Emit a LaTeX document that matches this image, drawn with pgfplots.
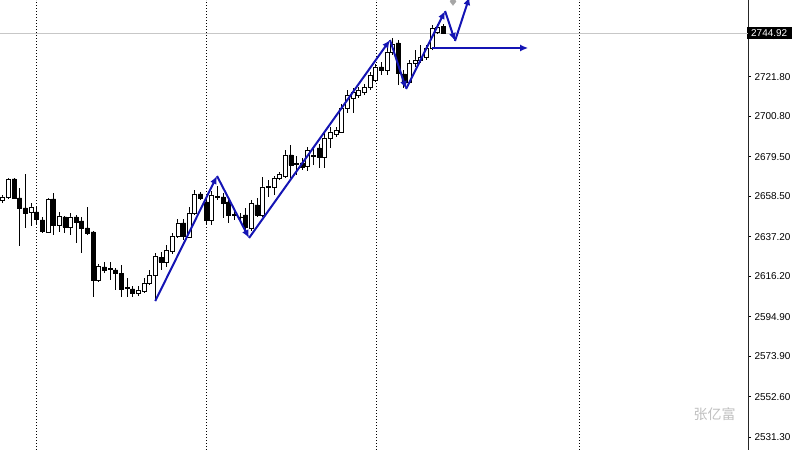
\documentclass[border=0pt]{standalone}
\usepackage{fontspec}
\setmainfont{Liberation Sans}
\newfontfamily\cjk{Noto Sans CJK SC}
\usepackage{pgfplots}
\usepackage{pgfplotstable}
\pgfplotsset{compat=1.18}
\usetikzlibrary{arrows.meta}
\definecolor{zig}{RGB}{20,20,180}

\pgfplotstableread{
i o h l c
0 2656.61 2659.25 2655.02 2658.20
1 2658.20 2668.24 2657.14 2667.71
2 2667.71 2668.24 2657.14 2657.67
3 2657.67 2662.95 2632.29 2652.38
4 2652.38 2670.36 2641.81 2649.74
5 2650.27 2655.02 2642.86 2652.91
6 2650.27 2652.91 2643.39 2646.56
7 2646.04 2647.62 2639.16 2640.22
8 2639.69 2657.67 2639.16 2657.14
9 2657.14 2660.31 2638.11 2643.39
10 2643.39 2650.27 2639.69 2648.15
11 2647.62 2648.15 2639.16 2642.34
12 2642.34 2649.74 2638.11 2647.62
13 2647.62 2648.68 2633.88 2644.98
14 2645.51 2647.62 2628.59 2641.81
15 2641.81 2652.91 2638.11 2639.16
16 2639.69 2640.22 2605.33 2614.31
17 2614.31 2622.77 2613.26 2621.72
18 2621.19 2623.83 2618.01 2619.60
19 2620.13 2623.83 2614.31 2620.40
20 2619.60 2620.66 2609.03 2618.01
21 2618.01 2622.24 2605.33 2609.56
22 2610.08 2615.37 2605.33 2610.30
23 2609.56 2611.14 2605.33 2607.44
24 2607.44 2611.14 2605.85 2609.03
25 2608.50 2615.37 2607.44 2612.73
26 2612.73 2619.60 2611.67 2616.96
27 2616.96 2628.59 2603.74 2627.00
28 2626.47 2629.12 2619.60 2623.83
29 2623.83 2632.82 2621.19 2630.17
30 2629.65 2639.16 2628.06 2637.58
31 2637.58 2646.56 2636.52 2644.45
32 2644.45 2646.56 2635.46 2637.58
33 2637.05 2652.91 2636.52 2649.74
34 2649.74 2661.90 2648.68 2659.78
35 2659.78 2660.84 2656.61 2657.67
36 2655.55 2658.20 2643.39 2646.04
37 2646.04 2661.37 2643.39 2659.25
38 2658.20 2664.01 2656.61 2658.72
39 2658.20 2660.31 2647.09 2655.02
40 2655.55 2657.67 2644.45 2648.68
41 2648.68 2652.38 2646.04 2648.90
42 2647.62 2649.74 2644.98 2647.40
43 2648.68 2652.38 2639.16 2642.34
44 2641.81 2656.61 2640.22 2655.02
45 2653.97 2657.67 2647.62 2648.68
46 2648.68 2668.77 2647.62 2663.48
47 2663.48 2667.18 2658.20 2664.01
48 2663.48 2669.30 2659.25 2668.24
49 2668.24 2671.41 2667.18 2670.36
50 2669.30 2683.04 2668.24 2680.40
51 2680.40 2685.69 2668.24 2675.11
52 2675.64 2679.87 2669.83 2675.85
53 2676.17 2678.82 2672.47 2674.06
54 2674.59 2684.63 2671.94 2683.04
55 2679.87 2684.10 2675.11 2680.40
56 2684.10 2686.22 2673.53 2679.34
57 2679.34 2692.03 2673.53 2689.39
58 2689.39 2695.21 2684.10 2692.56
59 2691.50 2695.21 2689.92 2693.62
60 2692.56 2707.37 2692.03 2705.25
61 2705.25 2714.77 2702.61 2712.12
62 2710.54 2715.82 2702.61 2713.71
63 2712.12 2716.35 2710.54 2714.77
64 2713.71 2717.94 2712.12 2716.35
65 2716.35 2724.28 2714.77 2722.70
66 2720.05 2728.51 2719.00 2726.93
67 2726.93 2729.57 2722.70 2725.34
68 2725.34 2737.50 2722.70 2734.86
69 2734.86 2742.26 2733.27 2739.09
70 2739.62 2741.20 2717.41 2723.75
71 2723.23 2725.34 2715.82 2719.00
72 2719.00 2730.63 2717.94 2729.04
73 2729.04 2735.91 2726.93 2730.63
74 2730.63 2738.56 2729.04 2732.21
75 2732.21 2738.56 2730.63 2736.97
76 2736.97 2749.13 2735.91 2747.55
77 2745.43 2749.66 2744.37 2748.08
78 2748.60 2749.66 2744.37 2744.92
}\candles

\pgfplotsset{common/.style={scale only axis, width=748bp, height=450bp,
  xmin=-0.478, xmax=131.91, ymin=2524.43, ymax=2762.35,
  at={(0,0)}, anchor=south west}}

\begin{document}
\begin{tikzpicture}
\useasboundingbox (0,0) rectangle (800bp,450bp);
\begin{axis}[common,
  axis x line=none, axis y line*=right,
  y axis line style={-, black!85, line width=0.8bp},
  ytick={2531.30,2552.60,2573.90,2594.90,2616.20,2637.20,2658.50,2679.50,2700.80,2721.80,2743.10},
  yticklabels={2531.30,2552.60,2573.90,2594.90,2616.20,2637.20,2658.50,2679.50,2700.80,2721.80,2743.10},
  tick align=outside, major tick length=3bp,
  ytick style={black, line width=0.6bp},
  yticklabel style={font=\fontsize{10}{12}\selectfont, anchor=west, xshift=0bp},
  extra y ticks={2744.92}, extra y tick labels={2744.92},
  extra y tick style={major tick length=0pt, yticklabel style={fill=black, text=white, inner xsep=4.5bp, inner ysep=2.2bp, xshift=-1.5bp}},
]
\addplot[black, line width=0.6bp, dash pattern=on 1bp off 2bp] coordinates {(5.9,2524.43) (5.9,2762.35)};
\addplot[black, line width=0.6bp, dash pattern=on 1bp off 2bp] coordinates {(36.0,2524.43) (36.0,2762.35)};
\addplot[black, line width=0.6bp, dash pattern=on 1bp off 2bp] coordinates {(66.07,2524.43) (66.07,2762.35)};
\addplot[black, line width=0.6bp, dash pattern=on 1bp off 2bp] coordinates {(102.0,2524.43) (102.0,2762.35)};
\addplot[black!22, line width=0.9bp] coordinates {(-0.478,2744.92) (131.91,2744.92)};
\addplot[draw=none, mark=none, error bars/.cd, y dir=plus, y explicit, error mark=none,
  error bar style={draw=black, solid, line width=0.8bp}]
  table[x=i, y=l, y error plus expr=\thisrow{h}-\thisrow{l}] \candles;
\node[text=black!25, font=\cjk\fontsize{14}{14}\selectfont] at (axis cs:126.0,2543.5) {张亿富};
\end{axis}
\begin{axis}[common, hide axis, ybar stacked, bar width=4bp]
\addplot[draw=none, fill=none] table[x=i, y expr={min(\thisrow{o},\thisrow{c})}] \candles;
\addplot[fill=white, draw=black, line width=0.7bp] table[x=i, y expr={max(\thisrow{c}-\thisrow{o},0)}] \candles;
\addplot[fill=black, draw=black, line width=0.7bp] table[x=i, y expr={max(\thisrow{o}-\thisrow{c},0)}] \candles;
\end{axis}
\begin{axis}[common, hide axis]
\addplot[only marks, mark=diamond*, mark size=4bp, black!35] coordinates {(79.7,2761.6)};
\addplot[zig, line width=2bp, -{Latex[length=8bp,width=7bp]}] coordinates {(27,2603.2) (37.93,2669.3)};
\addplot[zig, line width=2bp, -{Latex[length=8bp,width=7bp]}] coordinates {(37.93,2669.3) (43.6,2636.52)};
\addplot[zig, line width=2bp, -{Latex[length=8bp,width=7bp]}] coordinates {(43.6,2636.52) (68.55,2741.2)};
\addplot[zig, line width=2bp, -{Latex[length=8bp,width=7bp]}] coordinates {(68.55,2741.2) (71.4,2715.3)};
\addplot[zig, line width=2bp, -{Latex[length=8bp,width=7bp]}] coordinates {(71.4,2715.3) (78.3,2756.53)};
\addplot[zig, line width=2bp, -{Latex[length=8bp,width=7bp]}] coordinates {(78.3,2756.53) (80.05,2740.67)};
\addplot[zig, line width=2bp, -{Latex[length=8bp,width=7bp]}] coordinates {(80.05,2740.67) (82.6,2763.9)};
\addplot[zig, line width=2bp, -{Latex[length=8bp,width=7bp]}] coordinates {(76,2736.97) (93,2736.97)};
\end{axis}
\end{tikzpicture}
\end{document}
